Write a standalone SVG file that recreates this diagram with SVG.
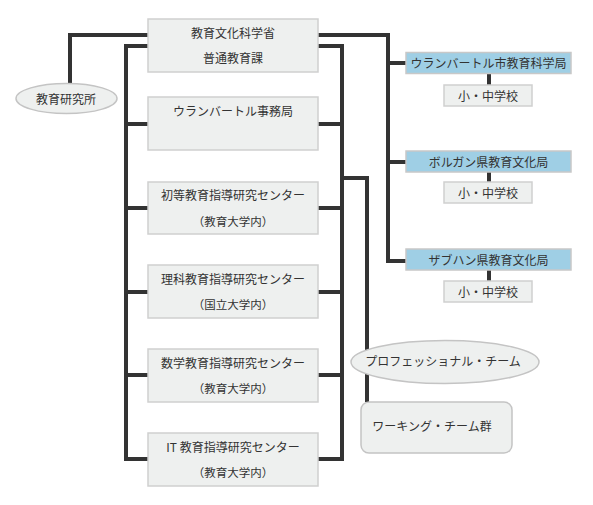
<svg xmlns="http://www.w3.org/2000/svg" width="593" height="505" viewBox="0 0 593 505">
<defs>
<linearGradient id="sep" x1="0" y1="0" x2="1" y2="0">
<stop offset="0" stop-color="#c8c8c8" stop-opacity="0.3"/>
<stop offset="0.5" stop-color="#c8c8c8"/>
<stop offset="1" stop-color="#c8c8c8" stop-opacity="0.3"/>
</linearGradient>
</defs>
<style>
.ln{fill:none;stroke:#333;stroke-width:4}
.box{fill:#eef0ef;stroke:#cfd0cf;stroke-width:1.5}
.blue{fill:#9fcfe5;stroke:#c8c8c8;stroke-width:1.5}
.oval{fill:#eef0ef;stroke:#c4c4c4;stroke-width:1.5}
.sep{stroke:url(#sep);stroke-width:2}
text{font-family:"Noto Sans CJK JP","Noto Sans",sans-serif;font-size:12px;fill:#333;text-anchor:middle}
.sm{font-size:11.5px}
</style>
<rect width="593" height="505" fill="#fff"/>
<g id="connectors">
<path class="ln" d="M148,35 H70 V84"/>
<path class="ln" d="M318,35 H388 V261 H406 M388,63 H406 M388,162 H406"/>
<path class="ln" d="M148,46 H126 V459 H148 M126,124 H148 M126,208 H148 M126,292 H148 M126,375 H148"/>
<path class="ln" d="M318,46 H342 V459 H318 M342,124 H318 M342,208 H318 M342,292 H318 M342,375 H318"/>
<path class="ln" d="M342,178 H367 V402"/>
<path class="ln" d="M489,73 V85 M489,172 V182 M489,270 V281"/>
</g>
<g id="ministry">
<rect class="box" x="148" y="19" width="170" height="53"/>
<text x="233" y="38">教育文化科学省</text>
<line class="sep" x1="188" y1="45" x2="278" y2="45"/>
<text x="233" y="63">普通教育課</text>
</g>
<g id="institute">
<ellipse class="oval" cx="66.5" cy="98.5" rx="50.5" ry="15"/>
<text x="66" y="104">教育研究所</text>
</g>
<g id="ub-office">
<rect class="box" x="148" y="97" width="170" height="53"/>
<text x="233" y="116">ウランバートル事務局</text>
<line class="sep" x1="188" y1="123" x2="278" y2="123"/>
</g>
<g id="primary-center">
<rect class="box" x="148" y="182" width="170" height="52"/>
<text x="233" y="200">初等教育指導研究センター</text>
<line class="sep" x1="188" y1="207" x2="278" y2="207"/>
<text class="sm" x="233" y="226">（教育大学内）</text>
</g>
<g id="science-center">
<rect class="box" x="148" y="265" width="170" height="53"/>
<text x="233" y="284">理科教育指導研究センター</text>
<line class="sep" x1="188" y1="291" x2="278" y2="291"/>
<text class="sm" x="233" y="309">（国立大学内）</text>
</g>
<g id="math-center">
<rect class="box" x="148" y="349" width="170" height="53"/>
<text x="233" y="368">数学教育指導研究センター</text>
<line class="sep" x1="188" y1="375" x2="278" y2="375"/>
<text class="sm" x="233" y="393">（教育大学内）</text>
</g>
<g id="it-center">
<rect class="box" x="148" y="433" width="170" height="53"/>
<text x="233" y="452">IT 教育指導研究センター</text>
<line class="sep" x1="188" y1="459" x2="278" y2="459"/>
<text class="sm" x="233" y="477">（教育大学内）</text>
</g>
<g id="ub-city">
<rect class="blue" x="406" y="52.5" width="165" height="21"/>
<text x="488.5" y="68">ウランバートル市教育科学局</text>
<rect class="box" x="444" y="85" width="88" height="21"/>
<text x="488" y="100.5">小・中学校</text>
</g>
<g id="bulgan">
<rect class="blue" x="406" y="151" width="165" height="21"/>
<text x="488.5" y="166.5">ボルガン県教育文化局</text>
<rect class="box" x="444" y="182" width="88" height="21"/>
<text x="488" y="197.5">小・中学校</text>
</g>
<g id="sukhbaatar">
<rect class="blue" x="406" y="249" width="165" height="21"/>
<text x="488.5" y="264.5">ザブハン県教育文化局</text>
<rect class="box" x="444" y="281" width="88" height="21"/>
<text x="488" y="296.5">小・中学校</text>
</g>
<g id="professional-team">
<ellipse class="oval" cx="445" cy="362" rx="94" ry="21.5"/>
<text x="443" y="366">プロフェッショナル・チーム</text>
</g>
<g id="working-teams">
<rect class="oval" x="361" y="402" width="151" height="51" rx="8"/>
<text x="432" y="431">ワーキング・チーム群</text>
</g>
</svg>
